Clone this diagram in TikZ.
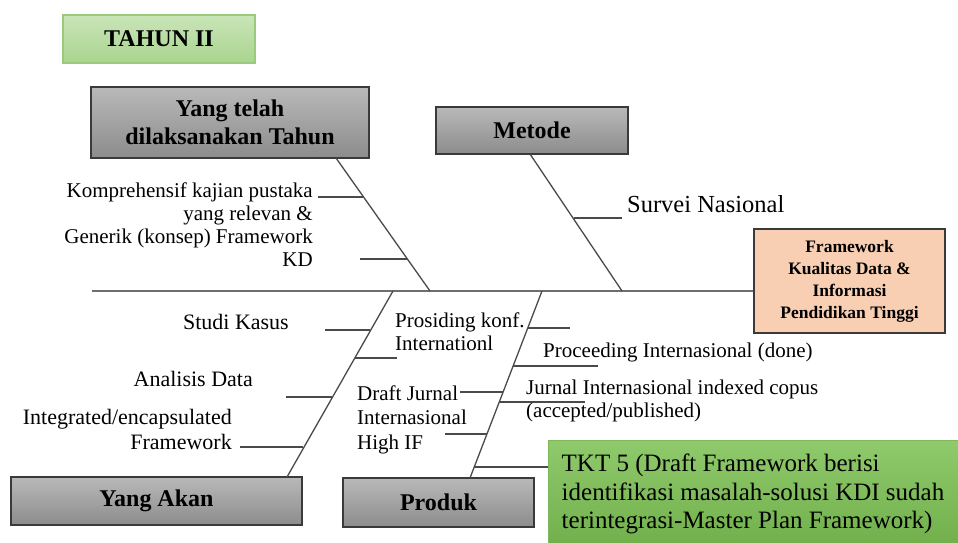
\documentclass[tikz,border=0pt]{standalone}
\usepackage{fontspec}
\setmainfont{Liberation Serif}
\usepackage{xcolor}
\definecolor{HeadTop}{HTML}{B9B9B9}
\definecolor{HeadBottom}{HTML}{8C8C8C}
\definecolor{HeadLine}{HTML}{3A3A3A}
\definecolor{YearTop}{HTML}{C9E5B8}
\definecolor{YearBottom}{HTML}{A9D48E}
\definecolor{YearLine}{HTML}{9ACB7C}
\definecolor{GoalFill}{HTML}{F8CFB2}
\definecolor{TktTop}{HTML}{8FCA6C}
\definecolor{TktBottom}{HTML}{71AF4B}
\definecolor{Bone}{HTML}{4A4A4A}

\tikzset{
  head/.style = {draw=HeadLine, line width=1.3pt, top color=HeadTop, bottom color=HeadBottom,
                 inner sep=0pt, align=center, font=\fontsize{24}{28}\selectfont\bfseries},
  year/.style = {draw=YearLine, line width=1.3pt, top color=YearTop, bottom color=YearBottom,
                 inner sep=0pt, font=\fontsize{24}{28}\selectfont\bfseries},
  goal/.style = {draw=HeadLine, line width=1.3pt, fill=GoalFill, inner sep=0pt,
                 align=center, font=\fontsize{17.5}{22}\selectfont\bfseries},
  tkt/.style  = {draw=TktBottom!90, line width=0.8pt, top color=TktTop, bottom color=TktBottom,
                 inner sep=0pt, align=left, font=\fontsize{25}{28.5}\selectfont},
  bone/.style = {Bone, line width=1.3pt},
  rib/.style  = {Bone, line width=1.2pt},
  lbl/.style  = {inner sep=0pt, font=\fontsize{21}{23}\selectfont},
}

\begin{document}
\begin{tikzpicture}[x=1pt, y=-1pt]
\useasboundingbox (0,0) rectangle (958,542);

% Heads
\node[year, minimum width=192pt, minimum height=48pt] (tahun) at (159,39) {TAHUN II};
\node[head, minimum width=278pt, minimum height=71pt] (telah) at (230,122.5) {Yang telah\\dilaksanakan Tahun};
\node[head, minimum width=192pt, minimum height=47pt] (metode) at (532,130.5) {Metode};
\node[head, minimum width=291pt, minimum height=48pt] (akan) at (156.5,501) {Yang Akan};
\node[head, minimum width=191pt, minimum height=49pt] (produk) at (438.5,502.5) {Produk};

% Goal
\node[goal, minimum width=191pt, minimum height=104pt] (goal) at (849.5,281) {Framework\\Kualitas Data \&\\Informasi\\Pendidikan Tinggi};
\node[tkt, minimum width=410pt, minimum height=108pt] (tkt) at (753,494) {TKT 5 (Draft Framework berisi\\identifikasi masalah-solusi KDI sudah\\terintegrasi-Master Plan Framework)};


% Spine
\coordinate (tail) at (92,291);
\draw[Bone!80, line width=2pt] (tail) -- (tail -| goal.west);

\coordinate (telah_b) at (336,158);
\coordinate (telah_s) at (430,291);
\coordinate (metode_b) at (530,154);
\coordinate (metode_s) at (622,291);
\coordinate (akan_b) at (287,477);
\coordinate (akan_s) at (393,291);
\coordinate (produk_b) at (470,478);
\coordinate (produk_s) at (542,291);

\draw[bone] (telah_b) -- (telah_s);
\draw[bone] (metode_b) -- (metode_s);
\draw[bone] (akan_b) -- (akan_s);
\draw[bone] (produk_b) -- (produk_s);


% Ribs, upper
\coordinate (k1a) at (318,197);
\coordinate (k1b) at (363,197);
\coordinate (k2a) at (360,259);
\coordinate (k2b) at (407,259);
\coordinate (sva) at (574,218);
\coordinate (svb) at (622,218);

\draw[rib] (k1a) -- (k1b);
\draw[rib] (k2a) -- (k2b);
\draw[rib] (sva) -- (svb);

% Ribs, lower left
\coordinate (sta) at (325,330);
\coordinate (stb) at (370,330);
\coordinate (pka) at (355,358);
\coordinate (pkb) at (397,358);
\coordinate (ana) at (286,397);
\coordinate (anb) at (332,397);
\coordinate (ina) at (240,447);
\coordinate (inb) at (303,447);

\draw[rib] (sta) -- (stb);
\draw[rib] (pka) -- (pkb);
\draw[rib] (ana) -- (anb);
\draw[rib] (ina) -- (inb);

% Ribs, lower right
\coordinate (p1a) at (528,328);
\coordinate (p1b) at (570,328);
\coordinate (p2a) at (513,366);
\coordinate (p2b) at (598,366);
\coordinate (p3a) at (460,392);
\coordinate (p3b) at (503,392);
\coordinate (p4a) at (499,402);
\coordinate (p4b) at (585,402);
\coordinate (p5a) at (445,434);
\coordinate (p5b) at (487,434);
\coordinate (p6a) at (474,467);

\draw[rib] (p1a) -- (p1b);
\draw[rib] (p2a) -- (p2b);
\draw[rib] (p3a) -- (p3b);
\draw[rib] (p4a) -- (p4b);
\draw[rib] (p5a) -- (p5b);
\draw[rib] (p6a) -- (p6a -| tkt.west);


% Labels (base = last line)
\node[lbl, anchor=base east, align=right] (kaji) at (313,266) {Komprehensif kajian pustaka\\yang relevan \&\\Generik (konsep) Framework\\KD};
\node[lbl, anchor=base west, font=\fontsize{24.5}{28}\selectfont] (survei) at (627,212) {Survei Nasional};

\node[lbl, anchor=base east, font=\fontsize{22}{25}\selectfont] (studi) at (289,329) {Studi Kasus};
\node[lbl, anchor=base east, font=\fontsize{22}{25}\selectfont] (analisis) at (253,386) {Analisis Data};
\node[lbl, anchor=base east, align=right, font=\fontsize{22}{25}\selectfont] (integ) at (232,449) {Integrated/encapsulated\\Framework};

\node[lbl, anchor=base west, align=left] (prosiding) at (395,350) {Prosiding konf.\\Internationl};
\node[lbl, anchor=base west, align=left, font=\fontsize{21}{24.5}\selectfont] (draft) at (357,449) {Draft Jurnal\\Internasional\\High IF};
\node[lbl, anchor=base west] (proceeding) at (543,357) {Proceeding Internasional (done)};
\node[lbl, anchor=base west, align=left] (jurnal) at (526,417) {Jurnal Internasional indexed copus\\(accepted/published)};

\end{tikzpicture}
\end{document}
